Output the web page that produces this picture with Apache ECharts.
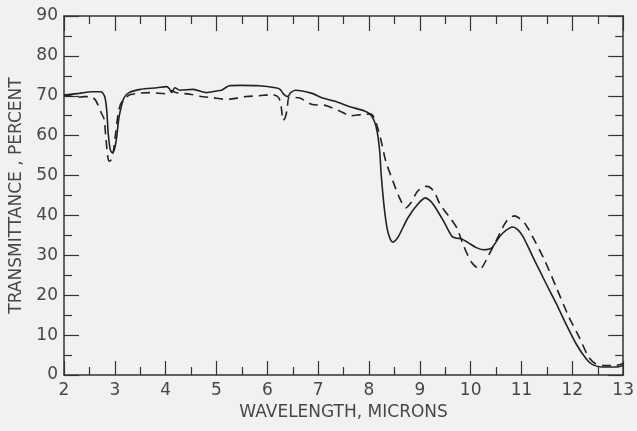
<!DOCTYPE html>
<html>
<head>
<meta charset="utf-8">
<script src="https://cdn.jsdelivr.net/npm/echarts@6/dist/echarts.min.js"></script>
<style>
  html, body { margin: 0; padding: 0; background: #f1f1f1; }
  #chart { width: 637px; height: 431px; }
</style>
</head>
<body>
<div id="chart"></div>
<script>
// Infrared transmittance spectra: solid and dashed traces
const solidWavelength = [2.00, 2.30, 2.55, 2.73, 2.80, 2.84, 2.87, 2.91, 2.95, 2.99, 3.03, 3.07, 3.10, 3.18, 3.28, 3.50, 3.83, 4.02, 4.07, 4.12, 4.18, 4.28, 4.54, 4.80, 5.00, 5.10, 5.25, 5.45, 5.84, 6.16, 6.25, 6.32, 6.40, 6.46, 6.55, 6.88, 7.07, 7.33, 7.59, 7.91, 8.02, 8.10, 8.16, 8.21, 8.24, 8.30, 8.36, 8.42, 8.47, 8.56, 8.76, 8.95, 9.11, 9.20, 9.28, 9.47, 9.63, 9.72, 9.80, 9.95, 10.10, 10.25, 10.41, 10.57, 10.70, 10.83, 10.92, 11.03, 11.22, 11.48, 11.68, 11.87, 12.07, 12.27, 12.40, 12.58, 12.85, 13.00];
const solidTransmittance = [70.2, 70.6, 71.0, 71.0, 69.8, 66.5, 60.5, 56.5, 55.7, 56.5, 59.0, 63.5, 65.8, 69.5, 70.8, 71.6, 72.0, 72.3, 71.8, 70.8, 72.0, 71.4, 71.6, 70.8, 71.2, 71.4, 72.5, 72.6, 72.5, 72.0, 71.6, 70.4, 69.8, 70.8, 71.4, 70.6, 69.5, 68.6, 67.4, 66.2, 65.4, 63.8, 61.0, 56.1, 50.2, 41.9, 36.5, 34.0, 33.3, 34.3, 39.3, 42.7, 44.4, 43.7, 42.5, 38.5, 34.8, 34.3, 34.2, 33.2, 32.0, 31.4, 31.8, 34.7, 36.3, 37.1, 36.5, 34.7, 29.7, 23.0, 18.0, 12.9, 7.9, 4.1, 2.6, 2.0, 2.0, 2.4];

const dashedWavelength = [2.00, 2.15, 2.27, 2.40, 2.53, 2.63, 2.73, 2.79, 2.82, 2.86, 2.89, 2.93, 2.97, 3.02, 3.08, 3.15, 3.31, 3.70, 4.02, 4.12, 4.20, 4.48, 4.67, 4.93, 5.19, 5.45, 5.58, 5.84, 6.10, 6.22, 6.27, 6.31, 6.35, 6.39, 6.43, 6.62, 6.88, 7.14, 7.40, 7.65, 7.85, 8.04, 8.10, 8.16, 8.24, 8.33, 8.47, 8.60, 8.72, 8.82, 8.95, 9.08, 9.15, 9.28, 9.40, 9.60, 9.73, 9.86, 10.02, 10.18, 10.34, 10.51, 10.70, 10.86, 11.06, 11.25, 11.45, 11.68, 11.93, 12.13, 12.32, 12.45, 12.64, 12.85, 13.00];
const dashedTransmittance = [70.1, 69.9, 69.6, 69.8, 69.8, 68.7, 65.8, 64.1, 60.0, 54.8, 53.6, 54.0, 56.0, 61.0, 66.6, 68.7, 70.3, 70.8, 70.5, 71.3, 70.8, 70.4, 69.9, 69.5, 69.1, 69.5, 69.8, 70.0, 70.3, 69.6, 67.5, 63.8, 64.5, 66.6, 69.6, 69.5, 67.8, 67.6, 66.3, 65.0, 65.3, 65.4, 64.5, 62.4, 58.6, 53.6, 48.6, 44.4, 41.9, 43.1, 46.0, 47.2, 47.3, 46.0, 42.7, 39.3, 36.8, 32.4, 28.2, 26.5, 29.7, 33.9, 38.5, 39.9, 38.1, 33.9, 28.9, 22.1, 14.6, 9.6, 4.5, 2.9, 2.4, 2.4, 2.9];

const xTickLabels = ['2', '3', '4', '5', '6', '7', '8', '9', '10', '11', '12', '13'];
const yTickLabels = ['0', '10', '20', '30', '40', '50', '60', '70', '80', '90'];

const ink = '#333333';
const textInk = '#474747';
const font = 'DejaVu Sans';

function pairs(xs, ys) { return xs.map((x, i) => [x, ys[i]]); }

const frameLine = { show: true, onZero: false, lineStyle: { color: ink, width: 1.5 } };

const chart = echarts.init(document.getElementById('chart'), null, { renderer: 'canvas' });
chart.setOption({
  backgroundColor: '#f1f1f1',
  animation: false,
  grid: { left: 63, right: 9, top: 16, bottom: 56 },
  xAxis: [
    {
      type: 'value', min: 2, max: 13, interval: 1, position: 'bottom',
      axisLine: frameLine,
      axisTick: { show: true, inside: true, length: 14, lineStyle: { color: ink, width: 1.2 } },
      minorTick: { show: true, splitNumber: 2, length: 8, lineStyle: { color: ink, width: 1.2 } },
      splitLine: { show: false },
      axisLabel: {
        color: textInk, fontFamily: font, fontSize: 17, margin: 7,
        formatter: v => xTickLabels[Math.round(v) - 2]
      },
      name: 'WAVELENGTH, MICRONS', nameLocation: 'middle', nameGap: 23,
      nameTextStyle: { color: textInk, fontFamily: font, fontSize: 17 }
    },
    {
      type: 'value', min: 2, max: 13, interval: 1, position: 'top',
      axisLine: frameLine,
      axisTick: { show: true, inside: true, length: 15, lineStyle: { color: ink, width: 1.2 } },
      minorTick: { show: true, splitNumber: 2, length: 8, lineStyle: { color: ink, width: 1.2 } },
      splitLine: { show: false },
      axisLabel: { show: false }
    }
  ],
  yAxis: [
    {
      type: 'value', min: 0, max: 90, interval: 10, position: 'left',
      axisLine: frameLine,
      axisTick: { show: true, inside: true, length: 15, lineStyle: { color: ink, width: 1.2 } },
      minorTick: { show: true, splitNumber: 2, length: 8, lineStyle: { color: ink, width: 1.2 } },
      splitLine: { show: false },
      axisLabel: {
        color: textInk, fontFamily: font, fontSize: 17, margin: 6,
        formatter: v => yTickLabels[Math.round(v / 10)]
      },
      name: 'TRANSMITTANCE , PERCENT', nameLocation: 'middle', nameGap: 39,
      nameTextStyle: { color: textInk, fontFamily: font, fontSize: 17 }
    },
    {
      type: 'value', min: 0, max: 90, interval: 10, position: 'right',
      axisLine: frameLine,
      axisTick: { show: true, inside: true, length: 15, lineStyle: { color: ink, width: 1.2 } },
      minorTick: { show: true, splitNumber: 2, length: 8, lineStyle: { color: ink, width: 1.2 } },
      splitLine: { show: false },
      axisLabel: { show: false }
    }
  ],
  series: [
    {
      name: 'solid', type: 'line', xAxisIndex: 0, yAxisIndex: 0,
      data: pairs(solidWavelength, solidTransmittance),
      showSymbol: false, smooth: 0.25,
      lineStyle: { color: '#222222', width: 1.6, type: 'solid' }
    },
    {
      name: 'dashed', type: 'line', xAxisIndex: 0, yAxisIndex: 0,
      data: pairs(dashedWavelength, dashedTransmittance),
      showSymbol: false, smooth: 0.25,
      lineStyle: { color: '#222222', width: 1.6, type: [9, 6] }
    }
  ]
});
</script>
</body>
</html>
